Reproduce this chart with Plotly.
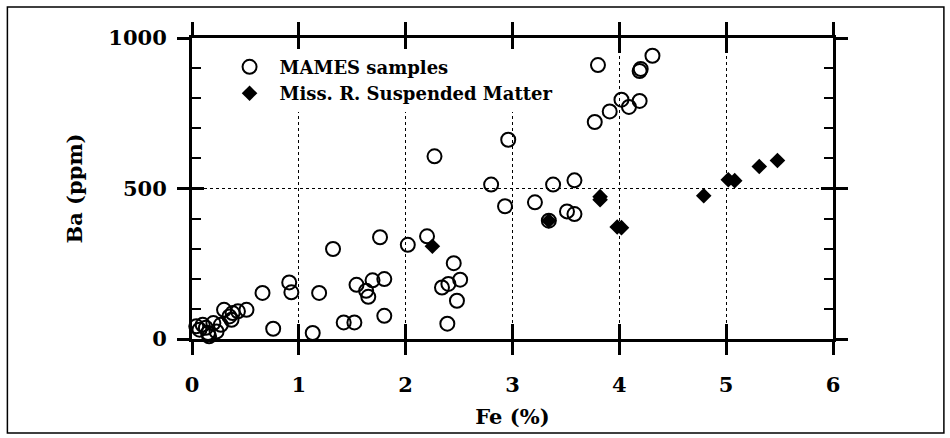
import plotly.graph_objects as go

# Fe (%) vs Ba (ppm) for MAMES sediment samples
fe_mames = [0.04, 0.07, 0.10, 0.13, 0.15, 0.16, 0.20, 0.23, 0.27, 0.30, 0.35, 0.37,
            0.38, 0.43, 0.51, 0.66, 0.76, 0.91, 0.93, 1.13, 1.19, 1.32, 1.42, 1.52,
            1.54, 1.63, 1.65, 1.69, 1.76, 1.80, 1.80, 2.02, 2.20, 2.27, 2.34, 2.40,
            2.39, 2.45, 2.48, 2.51, 2.80, 2.93, 2.96, 3.21, 3.34, 3.38, 3.51, 3.58,
            3.58, 3.77, 3.80, 3.91, 4.02, 4.09, 4.19, 4.19, 4.20, 4.31]
ba_mames = [42, 31, 47, 37, 20, 9, 53, 25, 47, 97, 75, 64,
            86, 92, 97, 153, 34, 188, 155, 20, 153, 299, 55, 55,
            180, 160, 140, 195, 338, 199, 77, 313, 341, 607, 171, 183,
            51, 252, 127, 197, 513, 441, 662, 454, 393, 513, 424, 415,
            527, 721, 910, 756, 795, 771, 791, 890, 897, 941]

# Mississippi River suspended matter
fe_miss = [2.25, 3.34, 3.82, 3.82, 3.98, 4.02, 4.79, 5.02, 5.08, 5.31, 5.48]
ba_miss = [308, 393, 463, 473, 372, 370, 476, 529, 526, 573, 593]

x_ticks = [0, 1, 2, 3, 4, 5, 6]
y_ticks = [0, 500, 1000]
y_minor_step = 100

FONT = "DejaVu Serif"
INK = "black"

fig = go.Figure()
fig.add_trace(go.Scatter(
    x=fe_mames, y=ba_mames, mode="markers", name="MAMES samples",
    marker=dict(symbol="circle-open", size=14, color=INK, line=dict(width=2, color=INK)),
    showlegend=True, cliponaxis=False,
))
fig.add_trace(go.Scatter(
    x=fe_miss, y=ba_miss, mode="markers", name="Miss. R. Suspended Matter",
    marker=dict(symbol="diamond", size=12, color=INK, line=dict(width=0)),
    showlegend=True, cliponaxis=False,
))

# empty placeholder traces so the tick-only helper axes get rendered
for xa, ya in [("x2", "y"), ("x", "y2"), ("x", "y3")]:
    fig.add_trace(go.Scatter(x=[None], y=[None], mode="markers", xaxis=xa, yaxis=ya,
                             showlegend=False, hoverinfo="skip", marker=dict(opacity=0)))

tick_font = dict(family=FONT, size=21, color=INK, weight=700)
title_font = dict(family=FONT, size=21, color=INK, weight=700)
legend_font = dict(family=FONT, size=18, color=INK, weight=700)

# helper axes that only carry extra tick marks (inner halves of the major
# ticks and the small inner ticks every 100 ppm)
bare = dict(showticklabels=False, showgrid=False, showline=False, zeroline=False,
            mirror="allticks", tickcolor=INK)

fig.update_layout(
    width=950, height=438,
    margin=dict(l=192, r=117, t=38, b=99, autoexpand=False),
    paper_bgcolor="white", plot_bgcolor="white",
    showlegend=True,
    xaxis=dict(
        range=[0, 6], tickmode="array", tickvals=x_ticks,
        ticks="outside", ticklen=13, tickwidth=3, tickcolor=INK,
        showline=True, linewidth=3, linecolor=INK, mirror="allticks",
        showgrid=True, gridcolor=INK, gridwidth=1, griddash="dot",
        zeroline=False, tickfont=tick_font, ticklabelstandoff=12,
        title=dict(text="Fe (%)", font=title_font, standoff=14),
    ),
    xaxis2=dict(overlaying="x", anchor="y", range=[0, 6], tickmode="array",
                tickvals=x_ticks, ticks="inside", ticklen=15, tickwidth=3, **bare),
    yaxis=dict(
        range=[0, 1000], tickmode="array", tickvals=y_ticks,
        ticks="outside", ticklen=12, tickwidth=3, tickcolor=INK,
        showline=True, linewidth=3, linecolor=INK, mirror="allticks",
        showgrid=True, gridcolor=INK, gridwidth=1, griddash="dot",
        zeroline=False, tickfont=tick_font, ticklabelstandoff=6,
        title=dict(text="Ba (ppm)", font=title_font, standoff=20),
    ),
    yaxis2=dict(overlaying="y", anchor="x", range=[0, 1000], tickmode="array",
                tickvals=y_ticks, ticks="inside", ticklen=12, tickwidth=3, **bare),
    yaxis3=dict(overlaying="y", anchor="x", range=[0, 1000], tickmode="linear",
                tick0=0, dtick=y_minor_step, ticks="inside", ticklen=9, tickwidth=2, **bare),
    legend=dict(x=0.043, y=0.86, xanchor="left", yanchor="middle", itemwidth=50,
                bgcolor="white", borderwidth=0, font=legend_font, tracegroupgap=0),
    shapes=[dict(type="rect", xref="paper", yref="paper",
                 x0=-0.288, x1=1.173, y0=-0.312, y1=1.103,
                 line=dict(color=INK, width=1.5), fillcolor="rgba(0,0,0,0)", layer="below")],
)

fig.write_html("out.html")
